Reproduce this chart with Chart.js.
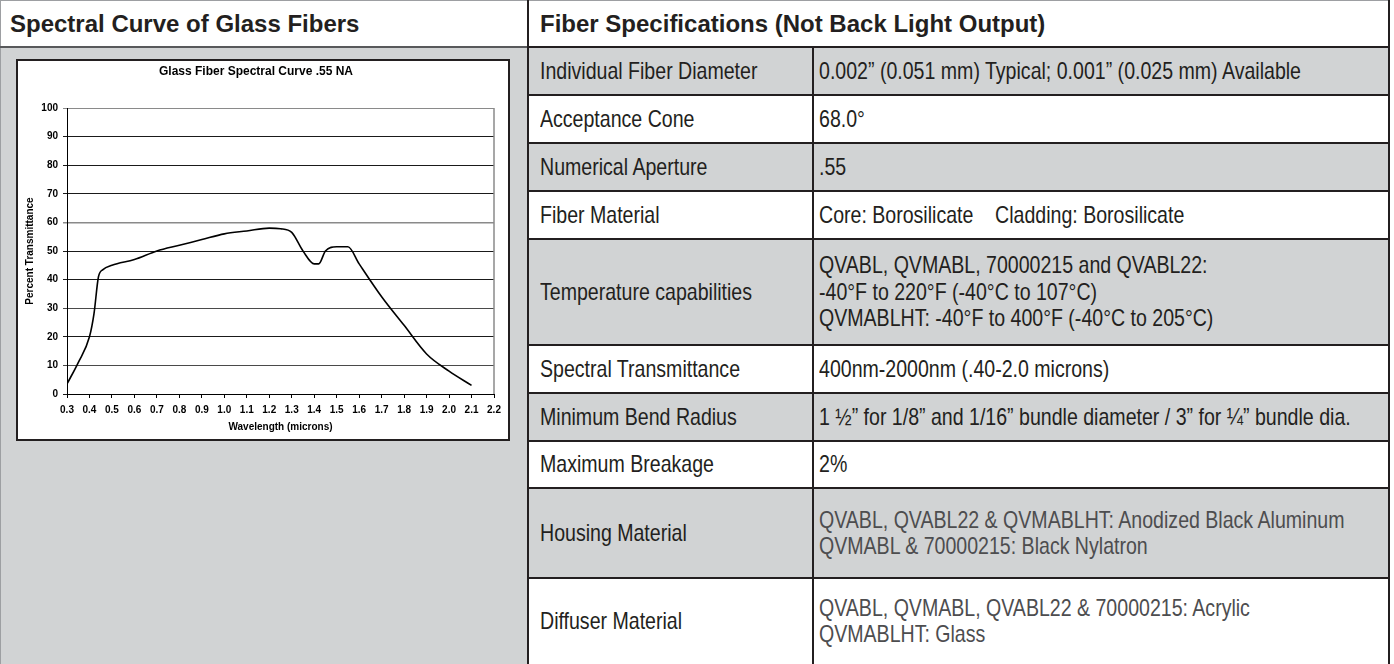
<!DOCTYPE html>
<html>
<head>
<meta charset="utf-8">
<script src="https://cdn.jsdelivr.net/npm/chart.js@4.4.1/dist/chart.umd.min.js"></script>
<style>
  html, body { margin:0; padding:0; background:#ffffff; }
  body { width:1394px; height:664px; overflow:hidden; position:relative; font-family:"Liberation Sans", Arial, Helvetica, sans-serif; color:#231f20; }
  .abs { position:absolute; }
  .hd { position:absolute; display:flex; align-items:center; font-weight:bold; font-size:24px; white-space:nowrap; }
  .cell { position:absolute; display:flex; align-items:center; overflow:visible; }
  .cond { display:inline-block; transform:scaleX(0.815); transform-origin:left center; white-space:nowrap; font-size:24px; line-height:26.5px; }
</style>
</head>
<body>
<div id="page"></div>
<script>
// ---------- chart data ----------
const wavelengths   = [0.30, 0.35, 0.40, 0.42, 0.44, 0.46, 0.50, 0.60, 0.70, 0.80, 0.90, 1.00, 1.10, 1.20, 1.25, 1.30, 1.35, 1.40, 1.42, 1.45, 1.50, 1.55, 1.60, 1.70, 1.80, 1.90, 2.00, 2.10];
const transmittance = [3.5,  11,   20,   28,   41,   43.5, 45,   47,   50,   52,   54,   56,   57,   58,   57.8, 56.5, 50,   45.5, 45.5, 50,   51.5, 51.5, 45.5, 34,   24,   14,   8,    3];
const xTickValues = [0.3,0.4,0.5,0.6,0.7,0.8,0.9,1.0,1.1,1.2,1.3,1.4,1.5,1.6,1.7,1.8,1.9,2.0,2.1,2.2];
const yTickValues = [0,10,20,30,40,50,60,70,80,90,100];
const chartTitle = 'Glass Fiber Spectral Curve .55 NA';
const xAxisTitle = 'Wavelength (microns)';
const yAxisTitle = 'Percent Transmittance';

// ---------- table data ----------
const leftHeader  = 'Spectral Curve of Glass Fibers';
const rightHeader = 'Fiber Specifications (Not Back Light Output)';
const specLabels = ['Individual Fiber Diameter','Acceptance Cone','Numerical Aperture','Fiber Material','Temperature capabilities','Spectral Transmittance','Minimum Bend Radius','Maximum Breakage','Housing Material','Diffuser Material'];
const specValues = [
  ['0.002\u201d (0.051 mm) Typical; 0.001\u201d (0.025 mm) Available'],
  ['68.0\u00b0'],
  ['.55'],
  ['Core: Borosilicate \u00a0\u00a0\u00a0Cladding: Borosilicate'],
  ['QVABL, QVMABL, 70000215 and QVABL22:','-40\u00b0F to 220\u00b0F (-40\u00b0C to 107\u00b0C)','QVMABLHT: -40\u00b0F to 400\u00b0F (-40\u00b0C to 205\u00b0C)'],
  ['400nm-2000nm (.40-2.0 microns)'],
  ['1 \u00bd\u201d for 1/8\u201d and 1/16\u201d bundle diameter / 3\u201d for \u00bc\u201d bundle dia.'],
  ['2%'],
  ['QVABL, QVABL22 & QVMABLHT: Anodized Black Aluminum','QVMABL & 70000215: Black Nylatron'],
  ['QVABL, QVMABL, QVABL22 & 70000215: Acrylic','QVMABLHT: Glass']
];
const rowBounds = [47, 95, 143, 191, 239, 345, 393, 441, 488, 578, 664];
const rowShaded = [true,false,true,false,true,false,true,false,true,false];
const valueMuted = [false,false,false,false,false,false,false,false,true,true];

// ---------- layout ----------
const page = document.getElementById('page');
function box(x,y,w,h,bg,extra){ const d=document.createElement('div'); d.className='abs'; Object.assign(d.style,{left:x+'px',top:y+'px',width:w+'px',height:h+'px',background:bg},extra||{}); page.appendChild(d); return d; }
const DARK='#231f20', GRAY='#d1d3d4', LINE='#9d9fa2';
const DIV_X=527, COL_X=812, RIGHT_X=1388;

// left panel
box(0,48,DIV_X,664-48,GRAY);
box(0,0,1,664,LINE);
// headers
let h=document.createElement('div'); h.className='hd'; Object.assign(h.style,{left:'10px',top:'1px',height:'45px'}); h.textContent=leftHeader; page.appendChild(h);
h=document.createElement('div'); h.className='hd'; Object.assign(h.style,{left:'540px',top:'1px',height:'45px'}); h.textContent=rightHeader; page.appendChild(h);

// rows
for(let i=0;i<specLabels.length;i++){
  const y0=rowBounds[i], y1=rowBounds[i+1];
  box(DIV_X, y0, RIGHT_X-DIV_X, y1-y0, rowShaded[i]?GRAY:'#ffffff');
  const lc=document.createElement('div'); lc.className='cell';
  Object.assign(lc.style,{left:(DIV_X+13)+'px',top:y0+'px',height:(y1-y0)+'px'});
  lc.innerHTML='<span class="cond"></span>'; lc.firstChild.textContent=specLabels[i]; page.appendChild(lc);
  const vc=document.createElement('div'); vc.className='cell';
  Object.assign(vc.style,{left:(COL_X+7)+'px',top:y0+'px',height:(y1-y0)+'px'});
  const sp=document.createElement('span'); sp.className='cond'; if(valueMuted[i]) sp.style.color='#4d4d4f';
  specValues[i].forEach((t,k)=>{ if(k) sp.appendChild(document.createElement('br')); sp.appendChild(document.createTextNode(t)); });
  vc.appendChild(sp); page.appendChild(vc);
}
// grid lines of the table
for(let i=0;i<rowBounds.length-1;i++){ box(DIV_X, rowBounds[i]-1, RIGHT_X-DIV_X+2, 2, DARK); }
box(0,46,DIV_X,2,'#58595b');
box(0,0,1390,1,LINE);
box(DIV_X,0,2,664,DARK);
box(COL_X,47,2,664-47,DARK);
box(RIGHT_X,0,2,664,DARK);

// chart box
const cb = box(16,59,490,378,'#ffffff',{border:'2px solid '+DARK});
const cv = document.createElement('canvas'); cv.width=490; cv.height=378; cv.style.width='490px'; cv.style.height='378px'; cb.appendChild(cv);

const F='"Liberation Sans", Arial, sans-serif';
const rightBorder = { id:'rightBorder', afterDatasetsDraw(c){ const a=c.chartArea, x=c.ctx; x.save(); x.strokeStyle='#8a8a8a'; x.lineWidth=1.5; x.beginPath(); x.moveTo(a.right,a.top); x.lineTo(a.right,a.bottom); x.stroke(); x.restore(); } };
const gridColor = v => (v===100||v===60) ? '#8a8a8a' : (v===30||v===10) ? '#4a4a4a' : '#1a1a1a';

new Chart(cv, {
  type:'line',
  data:{ datasets:[{ data: wavelengths.map((w,i)=>({x:w,y:transmittance[i]})), borderColor:'#000', borderWidth:1.6, pointRadius:0, fill:false, cubicInterpolationMode:'monotone' }] },
  options:{
    responsive:false, animation:false, devicePixelRatio:1,
    layout:{ padding:{ left:0, right:14, top:0, bottom:0 } },
    plugins:{
      legend:{display:false}, tooltip:{enabled:false},
      title:{ display:true, text:chartTitle, color:'#000', font:{family:F,size:12,weight:'bold',lineHeight:1.2}, padding:{top:3.8,bottom:28.8} }
    },
    scales:{
      x:{ type:'linear', min:0.3, max:2.2,
          afterBuildTicks(s){ s.ticks = xTickValues.map(v=>({value:v})); },
          afterFit(s){ s.height=45; },
          ticks:{ autoSkip:false, maxRotation:0, color:'#000', padding:6, font:{family:F,size:10,weight:'bold'}, callback:v=>Number(v).toFixed(1) },
          grid:{ drawOnChartArea:false, tickLength:4, color:'#000' },
          border:{ color:'#000', width:1 },
          title:{ display:true, text:xAxisTitle, color:'#000', font:{family:F,size:10,weight:'bold',lineHeight:1.2}, padding:{top:0,bottom:6} } },
      y:{ min:0, max:100,
          afterBuildTicks(s){ s.ticks = yTickValues.map(v=>({value:v})); },
          afterFit(s){ s.width=49; },
          ticks:{ color:'#000', padding:5, font:{family:F,size:10,weight:'bold'} },
          grid:{ tickLength:4, color:c=> c.tick ? gridColor(c.tick.value) : '#1a1a1a', lineWidth:c=> (c.tick && c.tick.value===60) ? 1.5 : 1 },
          border:{ color:'#000', width:1 },
          title:{ display:true, text:yAxisTitle, color:'#000', font:{family:F,size:10,weight:'bold',lineHeight:1.2}, padding:{top:6,bottom:0} } }
    }
  },
  plugins:[rightBorder]
});
</script>
</body>
</html>
